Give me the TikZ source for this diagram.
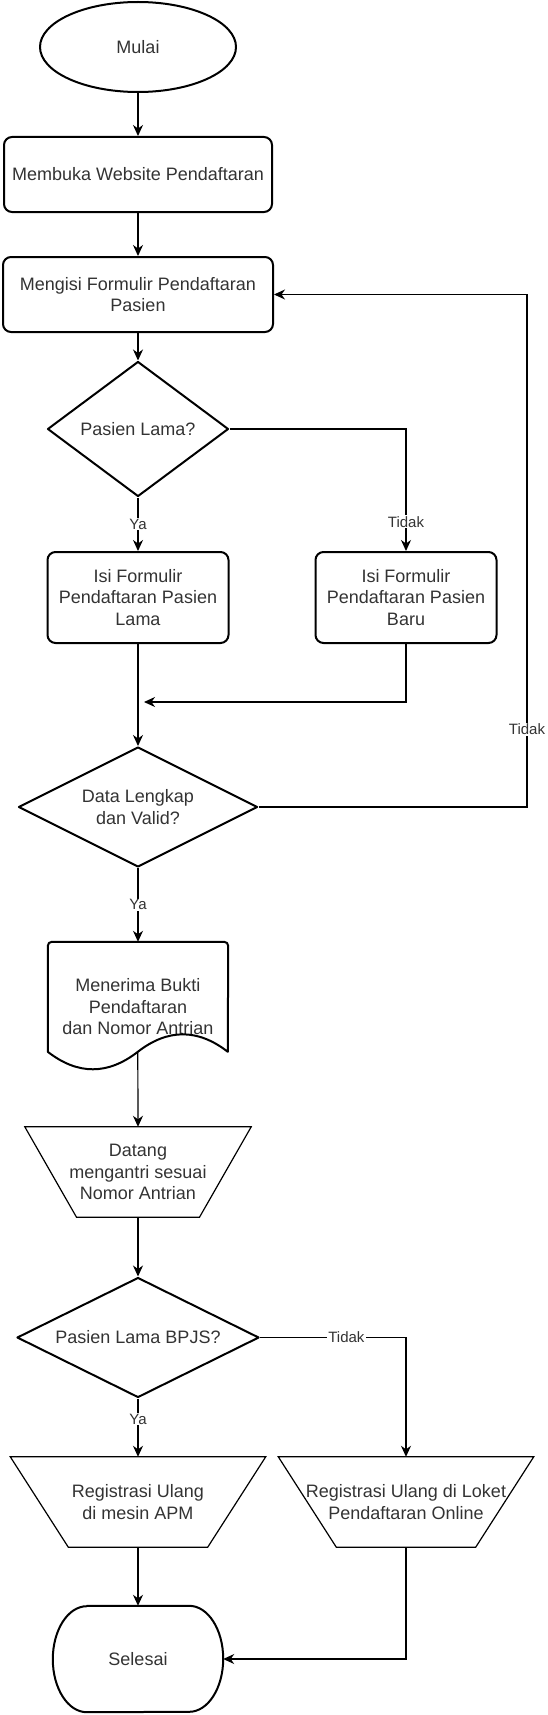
\documentclass[tikz,border=0pt]{standalone}
\usepackage{fontspec}
\setmainfont{Liberation Sans}
\usetikzlibrary{arrows.meta, shapes.geometric, calc}
\definecolor{txt}{HTML}{333333}

\begin{document}
\begin{tikzpicture}[
    x=1pt, y=-1pt, % work in pixels, y pointing down
    >={Stealth[length=11pt, width=10pt, inset=3.5pt]}, % Set default arrow tip style
    every node/.style={font=\fontsize{18}{21.6}\selectfont, text=txt, align=center},
    shapeline/.style={line width=2pt, line join=round},
    thinline/.style={line width=1.2pt},
    arr/.style={->, line width=1.2pt},
    startnode/.style={ellipse, draw, shapeline, inner sep=0pt, minimum width=196pt, minimum height=90pt},
    procbox/.style={rectangle, draw, shapeline, rounded corners=8pt, inner sep=0pt},
    decision/.style={diamond, aspect=2, draw, shapeline, inner sep=0pt},
    blank/.style={rectangle, inner sep=0pt}, % outline drawn by hand
    lbl/.style={fill=white, inner sep=1pt, font=\fontsize{15}{18}\selectfont}
]

\useasboundingbox (0,0) rectangle (548,1715);

% Start and first steps
\node[startnode] (mulai) at (138,47) {Mulai};
\node[procbox, minimum width=268pt, minimum height=75pt] (buka) at (138,174.5) {Membuka Website Pendaftaran};
\node[procbox, minimum width=270pt, minimum height=75pt] (isi) at (138,294.5) {Mengisi Formulir Pendaftaran\\Pasien};

% First decision and the two forms
\node[decision, minimum width=181pt, minimum height=135pt] (lama?) at (138,429) {Pasien Lama?};
\node[procbox, minimum width=181pt, minimum height=91pt] (lama) at (138,597.5) {Isi Formulir\\Pendaftaran Pasien\\Lama};
\node[procbox, minimum width=181pt, minimum height=91pt] (baru) at (406,597.5) {Isi Formulir\\Pendaftaran Pasien\\Baru};
\coordinate (gabung) at (144,702);

% Check of the data, loop back when not valid
\node[decision, minimum width=239pt, minimum height=120pt] (valid) at (138,807) {Data Lengkap\\dan Valid?};
\coordinate (balik) at (527,294.5);

% Document with wavy bottom
\node[blank, minimum width=180pt, minimum height=129.4pt] (bukti) at (138,1006.7) {Menerima Bukti\\Pendaftaran\\dan Nomor Antrian};
\draw[shapeline] ($(bukti.north west)+(0,110)$) [rounded corners=4pt] -- (bukti.north west) -- (bukti.north east) [sharp corners]
    -- ($(bukti.north west)+(180,110)$)
    .. controls ($(bukti.north west)+(150,86.7)$) and ($(bukti.north west)+(120,86.7)$) .. ($(bukti.north west)+(90,110)$)
    .. controls ($(bukti.north west)+(60,133.3)$) and ($(bukti.north west)+(30,133.3)$) .. ($(bukti.north west)+(0,110)$) -- cycle;
\coordinate (bukti-out) at ($(bukti.north west)+(90,110)$);

% Manual steps (trapezoids)
\node[blank, minimum width=226pt, minimum height=90pt] (datang) at (138,1172) {Datang\\mengantri sesuai\\Nomor Antrian};
\node[decision, minimum width=242pt, minimum height=120pt] (bpjs) at (138,1337.5) {Pasien Lama BPJS?};
\node[blank, minimum width=255pt, minimum height=90pt] (apm) at (138,1502) {Registrasi Ulang\\di mesin APM};
\node[blank, minimum width=255pt, minimum height=90pt] (loket) at (406,1502) {Registrasi Ulang di Loket\\Pendaftaran Online};
\foreach \n/\d in {datang/51.7, apm/58, loket/58}
    \draw[thinline] (\n.north west) -- (\n.north east) -- ($(\n.south east)+(-\d,0)$) -- ($(\n.south west)+(\d,0)$) -- cycle;

% End
\node[blank, minimum width=170pt, minimum height=106pt] (selesai) at (138,1659) {Selesai};
\draw[shapeline] ($(selesai.north west)+(34,0)$) -- ($(selesai.north east)+(-34,0)$)
    arc[start angle=90, end angle=-90, x radius=34pt, y radius=53pt]
    -- ($(selesai.south west)+(34,0)$)
    arc[start angle=270, end angle=90, x radius=34pt, y radius=53pt] -- cycle;

% Connectors
\draw[arr] (mulai) -- (buka);
\draw[arr] (buka) -- (isi);
\draw[arr] (isi) -- (lama?);
\draw[arr] (lama?) -- node[lbl] {Ya} (lama);
\draw[arr] (lama?.east) -| node[lbl, pos=0.88] {Tidak} (baru.north);
\draw[arr] (lama) -- (valid);
\draw[arr] (baru.south) |- (gabung);
\draw[arr] (valid.east) -| node[lbl, pos=0.576] {Tidak} (balik) -- (isi.east);
\draw[arr] (valid) -- node[lbl] {Ya} (bukti);
\draw[arr] (bukti-out) -- (datang.north);
\draw[arr] (datang) -- (bpjs);
\draw[arr] (bpjs) -- node[lbl, pos=0.35] {Ya} (apm);
\draw[arr] (bpjs.east) -| node[lbl, pos=0.296] {Tidak} (loket.north);
\draw[arr] (apm) -- (selesai);
\draw[arr] (loket.south) |- (selesai.east);

\end{tikzpicture}
\end{document}
